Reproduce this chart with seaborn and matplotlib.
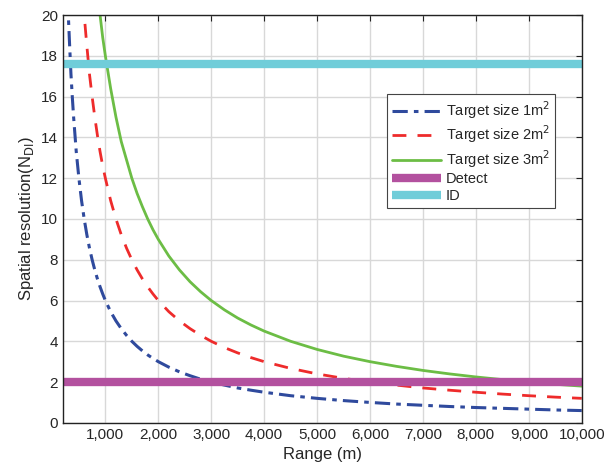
import numpy as np
import pandas as pd
import matplotlib
matplotlib.use("Agg")
import matplotlib.pyplot as plt
import matplotlib.ticker as mticker
import seaborn as sns

# valores
rango = [250, 275, 300, 325, 350, 375, 400, 450, 500, 550, 600, 650, 700, 750, 800, 850, 900, 950,
         1000, 1100, 1200, 1300, 1400, 1500, 1600, 1700, 1800, 1900, 2000, 2200, 2400, 2600, 2800,
         3000, 3250, 3500, 3750, 4000, 4500, 5000, 5500, 6000, 6500, 7000, 7500, 8000, 8500, 9000,
         9500, 10000]
n_1m = [24.0, 21.8, 20.0, 18.5, 17.1, 16.0, 15.0, 13.3, 12.0, 10.9, 10.0, 9.23, 8.57, 8.0, 7.5,
        7.06, 6.67, 6.32, 6.0, 5.45, 5.0, 4.62, 4.29, 4.0, 3.75, 3.53, 3.33, 3.16, 3.0, 2.73, 2.5,
        2.31, 2.14, 2.0, 1.85, 1.71, 1.6, 1.5, 1.33, 1.2, 1.09, 1.0, 0.92, 0.86, 0.8, 0.75, 0.71,
        0.67, 0.63, 0.6]
n_2m = [48.0, 43.6, 40.0, 36.9, 34.3, 32.0, 30.0, 26.7, 24.0, 21.8, 20.0, 18.5, 17.1, 16.0, 15.0,
        14.1, 13.3, 12.6, 12.0, 10.9, 10.0, 9.23, 8.57, 8.0, 7.5, 7.06, 6.67, 6.32, 6.0, 5.45, 5.0,
        4.62, 4.29, 4.0, 3.69, 3.43, 3.2, 3.0, 2.67, 2.4, 2.18, 2.0, 1.85, 1.71, 1.6, 1.5, 1.41,
        1.33, 1.26, 1.2]
n_3m = [72.0, 65.5, 60.0, 55.4, 51.4, 48.0, 45.0, 40.0, 36.0, 32.7, 30.0, 27.7, 25.7, 24.0, 22.5,
        21.2, 20.0, 18.9, 18.0, 16.4, 15.0, 13.8, 12.9, 12.0, 11.25, 10.6, 10.0, 9.47, 9.0, 8.18, 7.5,
        6.92, 6.43, 6.0, 5.54, 5.14, 4.8, 4.5, 4.0, 3.6, 3.27, 3.0, 2.77, 2.57, 2.4, 2.25, 2.12,
        2.0, 1.89, 1.8]
umbral_detect = 2.0
umbral_id = 17.6
limites_x = [200, 10000]

df = pd.DataFrame({"Range": rango, "1m": n_1m, "2m": n_2m, "3m": n_3m})

sns.set_style("white")
plt.rcParams['font.family'] = ['Liberation Sans', 'DejaVu Sans']

fig = plt.figure(figsize=(6.06, 4.74), dpi=100)
ax = fig.add_axes([0.104, 0.108, 0.856, 0.860])

ax.grid(True, color='#d8d8d8', linewidth=1.0)
ax.set_axisbelow(True)

sns.lineplot(data=df, x="Range", y="1m", ax=ax, color='#2f4a9d', linewidth=2.2,
             label=r'Target size 1m$^2$')
ax.lines[-1].set_dashes([5, 2, 1.5, 2])
sns.lineplot(data=df, x="Range", y="2m", ax=ax, color='#ee2b2b', linewidth=2.0,
             label=r'Target size 2m$^2$')
ax.lines[-1].set_dashes([5, 4])
sns.lineplot(data=df, x="Range", y="3m", ax=ax, color='#6cbd45', linewidth=2.0,
             label=r'Target size 3m$^2$')
ax.axhline(umbral_detect, color='#b3519f', linewidth=6, solid_capstyle='butt', label='Detect')
ax.axhline(umbral_id, color='#70cdd9', linewidth=6, solid_capstyle='butt', label='ID')

ax.set_xlim(limites_x)
ax.set_ylim(0, 20)
ax.set_yticks(np.arange(0, 21, 2))
ax.set_xticks(np.arange(1000, 10001, 1000))
ax.xaxis.set_major_formatter(mticker.FuncFormatter(lambda v, p: f'{int(v):,}'))
ax.tick_params(direction='in', top=True, right=True, labelsize=11, length=4, color='#222222')
for s in ax.spines.values():
    s.set_color('#222222')
    s.set_linewidth(1.0)

ax.set_xlabel('Range (m)', fontsize=12)
ax.set_ylabel(r'Spatial resolution(N$_{\rm DI}$)', fontsize=12)

leg = ax.legend(loc='upper left', bbox_to_anchor=(0.61, 0.824), fontsize=10.5,
                frameon=True, fancybox=False, edgecolor='#444444', framealpha=1,
                handlelength=3.4, borderpad=0.35, labelspacing=0.18, handletextpad=0.3)
leg.get_frame().set_linewidth(0.8)

fig.savefig('out.png', dpi=100)
